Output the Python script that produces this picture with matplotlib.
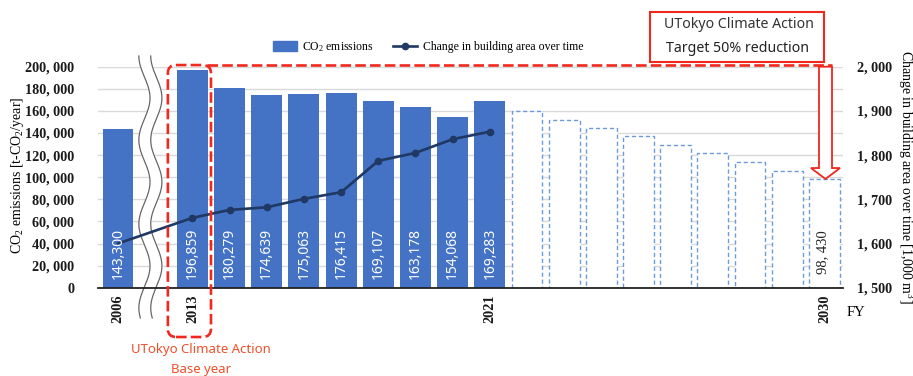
import numpy as np
import matplotlib
matplotlib.use("Agg")
import matplotlib.pyplot as plt
from matplotlib.patches import Patch, FancyBboxPatch, Polygon, Rectangle
from matplotlib.lines import Line2D
from matplotlib.ticker import FuncFormatter, MultipleLocator

plt.rcParams['font.family'] = ['Liberation Serif', 'DejaVu Serif']
plt.rcParams['mathtext.default'] = 'regular'

# ---------------- data ----------------
years_actual = ['2006', '2013', '2014', '2015', '2016', '2017', '2018', '2019', '2020', '2021']
co2_actual = [143300, 196859, 180279, 174639, 175063, 176415, 169107, 163178, 154068, 169283]
area_actual = [1600, 1658, 1676, 1682, 1701, 1716, 1787, 1805, 1836, 1853]
years_plan = ['2022', '2023', '2024', '2025', '2026', '2027', '2028', '2029', '2030']
co2_plan = [160000, 152000, 144500, 137000, 129000, 121500, 114000, 106000, 98430]
tick_years = ['2006', '2013', '2021', '2030']

BLUE = '#4472C4'
NAVY = '#1F3864'
DASH_BLUE = '#6B9BD8'
RED = '#F0281E'
ORANGE = '#F0502A'

# slot positions: 2006 then a break of one slot, then consecutive years
pos_actual = [0] + list(range(2, 2 + len(years_actual) - 1))
pos_plan = list(range(pos_actual[-1] + 1, pos_actual[-1] + 1 + len(years_plan)))
pos_of = dict(zip(years_actual + years_plan, pos_actual + pos_plan))

fig = plt.figure(figsize=(9.13, 3.76), dpi=100)
ax = fig.add_axes([0.1073, 0.2348, 0.8160, 0.5878])
ax2 = ax.twinx()

ax.set_xlim(-0.54, 19.5)
ax.set_ylim(0, 200000)
ax2.set_ylim(1500, 2000)

# bars
ax.bar(pos_actual, co2_actual, width=0.83, color=BLUE, zorder=2)
ax.bar(pos_plan, co2_plan, width=0.83, facecolor='white', edgecolor=DASH_BLUE,
       linewidth=1.0, linestyle=(0, (3, 2)), zorder=2)

# grid
ax.set_axisbelow(True)
ax.yaxis.set_major_locator(MultipleLocator(20000))
ax.yaxis.grid(True, color='#D9D9D9', linewidth=1.0)
ax2.yaxis.set_major_locator(MultipleLocator(100))

fmt = FuncFormatter(lambda v, p: f"{int(round(v)):,}".replace(',', ', '))
ax.yaxis.set_major_formatter(fmt)
ax2.yaxis.set_major_formatter(fmt)

for s in ['left', 'right', 'top']:
    ax.spines[s].set_visible(False)
    ax2.spines[s].set_visible(False)
ax2.spines['bottom'].set_visible(False)
ax.spines['bottom'].set_color('#222222')
ax.spines['bottom'].set_linewidth(1.3)

ax.tick_params(axis='y', length=0, pad=17, labelsize=10.2)
ax2.tick_params(axis='y', length=0, pad=10, labelsize=10.2)
for lab in ax.get_yticklabels() + ax2.get_yticklabels():
    lab.set_fontweight('bold')
    lab.set_color('#1a1a1a')

ax.set_xticks([pos_of[y] for y in tick_years])
ax.set_xticklabels(tick_years, rotation=90, fontsize=10.3, fontweight='bold', color='#1a1a1a')
ax.tick_params(axis='x', length=0, pad=5)

# axis break (wavy lines)
yy = np.linspace(-27400, 209700, 400)
ph = 2 * np.pi * (209700 - yy) / 76000
xl = 0.71 - 0.15 * np.cos(ph)
xr = 1.03 - 0.15 * np.cos(ph)
ax.fill_betweenx(yy, xl, xr, color='white', zorder=1.5, clip_on=False)
ax.plot(xl, yy, color='#666666', lw=0.9, zorder=1.6, clip_on=False)
ax.plot(xr, yy, color='#666666', lw=0.9, zorder=1.6, clip_on=False)

# line (right axis)
ax2.plot(pos_actual, area_actual, color=NAVY, lw=1.9, zorder=3)
ax2.plot(pos_actual[1:], area_actual[1:], 'o', color=NAVY, ms=4.5, zorder=3)

# data labels
for x, v in zip(pos_actual, co2_actual):
    ax2.annotate(f"{v:,}", xy=(x, 0), xycoords=ax.transData, xytext=(0, 6),
                 textcoords='offset points', rotation=90, ha='center', va='bottom',
                 color='white', fontsize=10, family=['Noto Sans', 'DejaVu Sans'], zorder=5)
ax2.annotate(f"{co2_plan[-1]:,}".replace(',', ', '), xy=(pos_plan[-1], 0), xycoords=ax.transData,
             xytext=(-1.5, 10), textcoords='offset points', rotation=90, ha='center',
             va='bottom', color='#222222', fontsize=10.5, zorder=5)

# axis labels
fig.text(18 / 913, 1 - 175 / 376, 'CO$_2$ emissions [t-CO$_2$/year]', rotation=90,
         ha='center', va='center', fontsize=10)
fig.text(905 / 913, 1 - 177 / 376, 'Change in building area over time [1,000 m$^3$]',
         rotation=-90, ha='center', va='center', fontsize=10)
fig.text(856 / 913, 1 - 313 / 376, 'FY', ha='center', va='center', fontsize=10.5)

# legend
handles = [Patch(color=BLUE), Line2D([], [], color=NAVY, lw=1.9, marker='o', ms=4.5)]
fig.legend(handles, ['CO$_2$ emissions', 'Change in building area over time'],
           loc='center', bbox_to_anchor=(428 / 913, 1 - 47 / 376), ncol=2, frameon=False,
           fontsize=8.5, handlelength=2.0, handleheight=0.8, columnspacing=1.6,
           handletextpad=0.5)

# red dashed base-year box and target line
dash = (0, (4, 1.6))
bx0, bx1 = 1.34, 2.50
by0, by1 = -44600, 201500
box = FancyBboxPatch((bx0, by0), bx1 - bx0, by1 - by0,
                     boxstyle='round,pad=0,rounding_size=0.22', mutation_aspect=33700,
                     fill=False, edgecolor=RED, lw=1.9, linestyle=dash,
                     transform=ax.transData, clip_on=False, zorder=6)
ax2.add_patch(box)
ax2.plot([bx1 - 0.1, 19.2], [by1, by1], color=RED, lw=1.9, linestyle=dash,
         transform=ax.transData, clip_on=False, zorder=6)

# target arrow
xc = 19.03
sw, hw = 0.175, 0.39
ytop, yhead, ytip = 200000, 108300, co2_plan[-1]
arrow = Polygon([(xc - sw, ytop), (xc - sw, yhead), (xc - hw, yhead), (xc, ytip),
                 (xc + hw, yhead), (xc + sw, yhead), (xc + sw, ytop)], closed=True,
                facecolor='white', edgecolor=RED, lw=1.3, transform=ax.transData,
                clip_on=False, zorder=6)
ax2.add_patch(arrow)

# annotation texts
fig.add_artist(Rectangle((650 / 913, 1 - 62 / 376), 174 / 913, 50 / 376,
                         transform=fig.transFigure, fill=False, edgecolor=RED, lw=1.5))
sans = ['Noto Sans', 'DejaVu Sans']
fig.text(739 / 913, 1 - 25 / 376, 'UTokyo Climate Action', ha='center', va='center',
         fontsize=10.2, family=sans, color='#333333')
fig.text(737 / 913, 1 - 48 / 376, 'Target 50% reduction', ha='center', va='center',
         fontsize=10.2, family=sans, color='#222222')
fig.text(201 / 913, 1 - 350 / 376, 'UTokyo Climate Action', ha='center', va='center',
         fontsize=9.5, family=sans, color=ORANGE)
fig.text(201 / 913, 1 - 369 / 376, 'Base year', ha='center', va='center',
         fontsize=9.5, family=sans, color=ORANGE)

fig.savefig('out.png', dpi=100)
